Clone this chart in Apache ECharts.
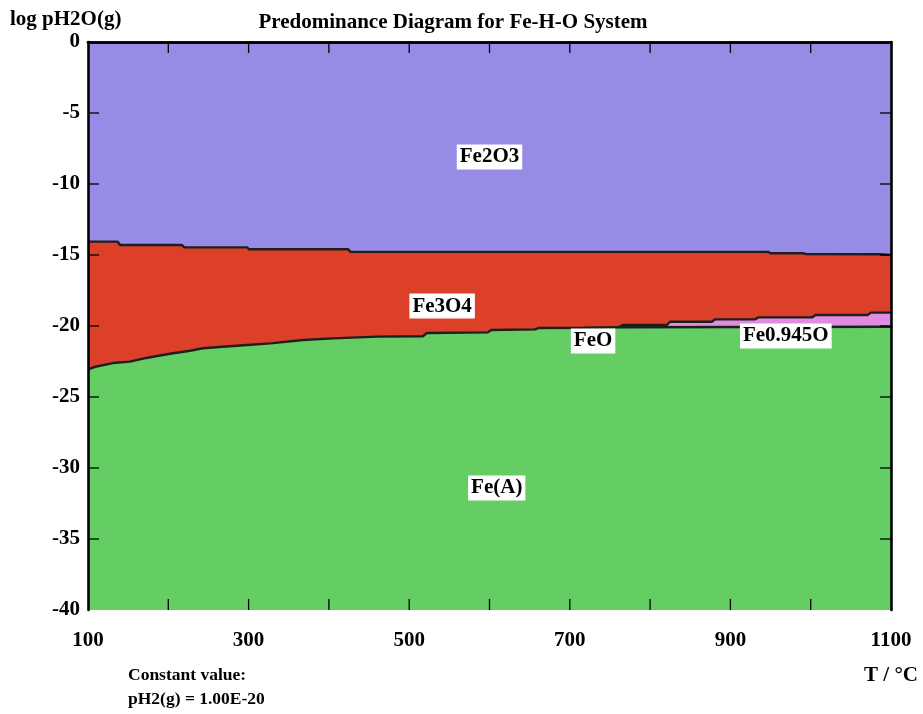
<!DOCTYPE html>
<html>
<head>
<meta charset="utf-8">
<script src="https://cdn.jsdelivr.net/npm/echarts@6/dist/echarts.min.js"></script>
<style>
html,body{margin:0;padding:0;background:#fff;}
#chart{width:923px;height:714px;}
</style>
</head>
<body>
<div id="chart"></div>
<script>
// Fe2O3 / Fe3O4 boundary  [T, log pH2O]
const upperBoundary = [
  [100,-14.06],[137,-14.06],[140,-14.3],[217,-14.3],[220,-14.46],[298,-14.46],[301,-14.6],
  [424,-14.6],[427,-14.78],[947,-14.78],[950,-14.88],[991,-14.88],[994,-14.93],[1085,-14.95],[1100,-15.0]
];
// Fe3O4 (or FeO / Fe0.945O) / Fe(A) boundary
const lowerBoundary = [
  [100,-23.05],[109,-22.87],[131,-22.61],[152,-22.51],[173,-22.25],[186,-22.11],[206,-21.92],
  [227,-21.74],[243,-21.57],[268,-21.46],[298,-21.34],[327,-21.22],[368,-20.99],[405,-20.87],
  [460,-20.75],[517,-20.72],[522,-20.49],[598,-20.45],[602,-20.28],[657,-20.24],[661,-20.14],
  [716,-20.12],[762,-20.09],[1100,-20.05]
];
// Fe0.945O / Fe3O4 boundary
const wustiteTop = [
  [762,-20.02],[766,-19.93],[821,-19.93],[825,-19.70],[877,-19.70],[881,-19.53],[931,-19.53],
  [935,-19.39],[1002,-19.39],[1006,-19.23],[1071,-19.23],[1075,-19.06],[1100,-19.06]
];
const regionLabels = [
  {name:'Fe2O3', T:600, y:-8.1},
  {name:'Fe3O4', T:541, y:-18.6},
  {name:'FeO', T:729, y:-21.05},
  {name:'Fe0.945O', T:969, y:-20.7},
  {name:'Fe(A)', T:609, y:-31.4}
];
const xTickLabels = [100,300,500,700,900,1100];
const xTickValues = [200,300,400,500,600,700,800,900,1000];
const yTickValues = [-35,-30,-25,-20,-15,-10,-5];

const FONT = '"Liberation Serif", "DejaVu Serif", serif';
const FS = 21;
const TICK = 11;
const chart = echarts.init(document.getElementById('chart'));
const lineStyle = {color:'#1e1e1e', width:2.4};
const area = (data, color, z) => ({
  type:'line', data, symbol:'none', z, lineStyle, areaStyle:{color, opacity:1, origin:'start'}, silent:true
});
const xBase = {type:'value', min:100, max:1100, interval:100, z:10, splitLine:{show:false}, axisTick:{show:false}};
const yBase = {type:'value', min:-40, max:0, interval:5, z:10, splitLine:{show:false}, axisTick:{show:false}};
const border = {show:true, lineStyle:{color:'#000', width:2.6}};
const tickStyle = {stroke:'#000', lineWidth:1.3};

function xTickRender(params, api) {
  const b = api.coord([api.value(0), -40]);
  const t = api.coord([api.value(0), 0]);
  return {type:'group', children:[
    {type:'line', shape:{x1:b[0], y1:b[1], x2:b[0], y2:b[1]-TICK}, style:tickStyle},
    {type:'line', shape:{x1:t[0], y1:t[1], x2:t[0], y2:t[1]+TICK}, style:tickStyle}
  ]};
}
function yTickRender(params, api) {
  const l = api.coord([100, api.value(0)]);
  const r = api.coord([1100, api.value(0)]);
  return {type:'group', children:[
    {type:'line', shape:{x1:l[0], y1:l[1], x2:l[0]+TICK, y2:l[1]}, style:tickStyle},
    {type:'line', shape:{x1:r[0], y1:r[1], x2:r[0]-TICK, y2:r[1]}, style:tickStyle}
  ]};
}

chart.setOption({
  animation:false,
  backgroundColor:'#fff',
  grid:{left:88, right:32, top:42, bottom:104, show:true, backgroundColor:'#968ce6', borderWidth:0},
  title:{text:'Predominance Diagram for Fe-H-O System', left:448, textAlign:'center', top:7,
    textStyle:{fontFamily:FONT, fontWeight:'bold', fontSize:FS, color:'#000'}},
  graphic:[
    {type:'text', left:10, top:9, style:{text:'log pH2O(g)', font:'bold '+FS+'px '+FONT, fill:'#000'}},
    {type:'text', right:5, top:665, style:{text:'T / °C', font:'bold '+FS+'px '+FONT, fill:'#000'}},
    {type:'text', left:128, top:666, style:{text:'Constant value:', font:'bold 17.5px '+FONT, fill:'#000'}},
    {type:'text', left:128, top:690, style:{text:'pH2(g) = 1.00E-20', font:'bold 17.5px '+FONT, fill:'#000'}}
  ],
  xAxis:[
    Object.assign({}, xBase, {position:'bottom', axisLine:border,
     axisLabel:{margin:20, fontFamily:FONT, fontWeight:'bold', fontSize:FS, color:'#000',
       formatter:v => xTickLabels.includes(v) ? String(v) : ''}}),
    Object.assign({}, xBase, {position:'top', axisLine:border, axisLabel:{show:false}})
  ],
  yAxis:[
    Object.assign({}, yBase, {position:'left', axisLine:border,
     axisLabel:{margin:8, fontFamily:FONT, fontWeight:'bold', fontSize:FS, color:'#000'}}),
    Object.assign({}, yBase, {position:'right', axisLine:border, axisLabel:{show:false}})
  ],
  series:[
    area(upperBoundary, '#dc4028', 2),
    area(wustiteTop, '#e08ce0', 3),
    area(lowerBoundary, '#64cd64', 4),
    {type:'custom', z:6, silent:true, clip:false, renderItem:xTickRender,
     data:xTickValues.map(v => [v])},
    {type:'custom', z:6, silent:true, clip:false, renderItem:yTickRender,
     data:yTickValues.map(v => [v])},
    {type:'scatter', z:8, symbolSize:1, silent:true, itemStyle:{opacity:0},
     data: regionLabels.map(d => ({value:[d.T, d.y], name:d.name})),
     label:{show:true, position:'inside', formatter:p => p.name, opacity:1,
       backgroundColor:'#ffffff', padding:[3,3,1,3], color:'#000',
       fontFamily:FONT, fontWeight:'bold', fontSize:FS}}
  ]
});
</script>
</body>
</html>
